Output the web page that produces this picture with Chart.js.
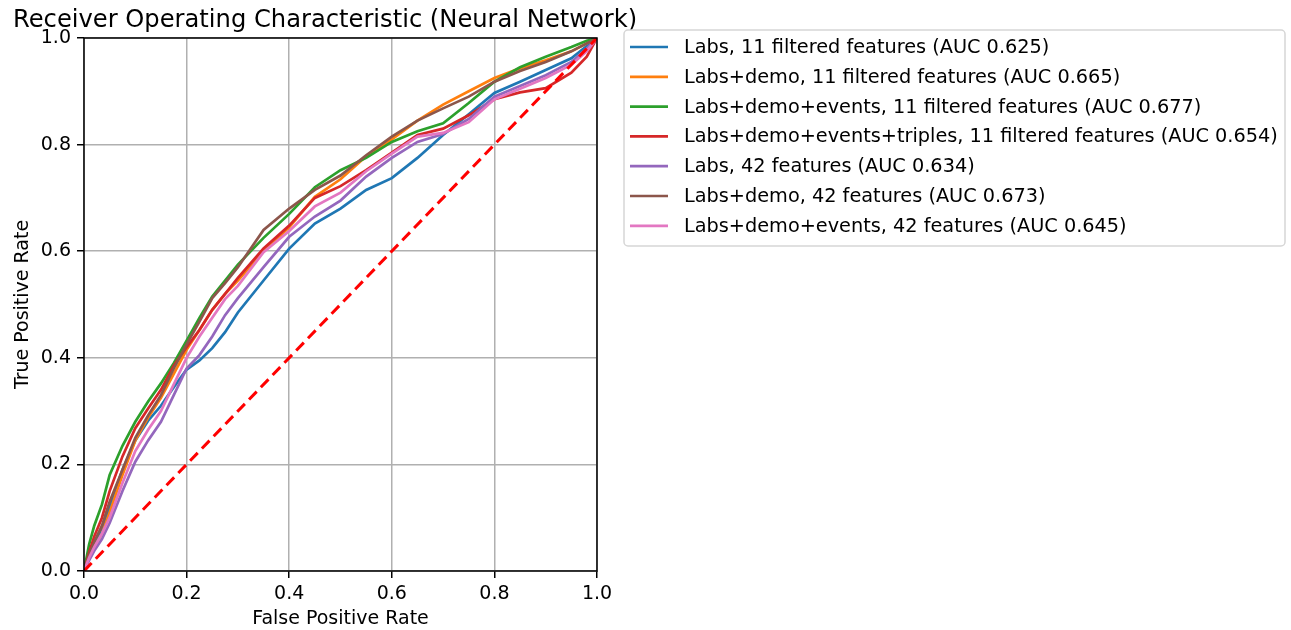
<!DOCTYPE html>
<html>
<head>
<meta charset="utf-8">
<title>ROC - Neural Network</title>
<script src="https://cdn.jsdelivr.net/npm/chart.js@4.4.1/dist/chart.umd.min.js"></script>
<style>
  html, body { margin: 0; padding: 0; background: #fff; }
  #roc { display: block; }
</style>
</head>
<body>
<canvas id="roc" width="1291" height="630"></canvas>
<script>
// shared false positive rate grid
const fpr = [0, 0.01, 0.02, 0.035, 0.05, 0.075, 0.1, 0.125, 0.15, 0.175, 0.2, 0.225, 0.25, 0.275, 0.3,
             0.35, 0.4, 0.45, 0.5, 0.55, 0.6, 0.65, 0.7, 0.75, 0.8, 0.85, 0.9, 0.95, 0.98, 1];

// true positive rate per model
const tprLabs11    = [0, 0.03, 0.05, 0.08, 0.12, 0.19, 0.245, 0.282, 0.31, 0.345, 0.378, 0.395, 0.418, 0.448, 0.485,
                      0.545, 0.605, 0.652, 0.68, 0.715, 0.737, 0.775, 0.818, 0.857, 0.897, 0.918, 0.94, 0.962, 0.985, 1];
const tprDemo11    = [0, 0.025, 0.045, 0.07, 0.11, 0.18, 0.245, 0.288, 0.325, 0.37, 0.415, 0.452, 0.49, 0.52, 0.545,
                      0.6, 0.645, 0.702, 0.735, 0.778, 0.81, 0.845, 0.875, 0.9, 0.925, 0.943, 0.958, 0.975, 0.99, 1];
const tprEvents11  = [0, 0.05, 0.085, 0.125, 0.18, 0.235, 0.28, 0.318, 0.352, 0.39, 0.432, 0.475, 0.515, 0.545, 0.575,
                      0.625, 0.67, 0.72, 0.752, 0.775, 0.805, 0.825, 0.84, 0.878, 0.918, 0.945, 0.965, 0.983, 0.995, 1];
const tprTriples11 = [0, 0.035, 0.065, 0.1, 0.15, 0.215, 0.268, 0.305, 0.34, 0.385, 0.42, 0.452, 0.49, 0.52, 0.55,
                      0.605, 0.648, 0.7, 0.722, 0.752, 0.785, 0.818, 0.83, 0.855, 0.885, 0.898, 0.906, 0.935, 0.965, 1];
const tprLabs42    = [0, 0.02, 0.038, 0.06, 0.09, 0.15, 0.205, 0.245, 0.28, 0.33, 0.38, 0.405, 0.44, 0.48, 0.512,
                      0.57, 0.627, 0.665, 0.695, 0.74, 0.775, 0.805, 0.82, 0.848, 0.89, 0.91, 0.93, 0.955, 0.98, 1];
const tprDemo42    = [0, 0.03, 0.055, 0.085, 0.13, 0.19, 0.25, 0.292, 0.33, 0.38, 0.425, 0.468, 0.512, 0.54, 0.57,
                      0.64, 0.68, 0.715, 0.742, 0.78, 0.815, 0.845, 0.868, 0.89, 0.918, 0.938, 0.955, 0.975, 0.99, 1];
const tprEvents42  = [0, 0.025, 0.045, 0.07, 0.1, 0.165, 0.225, 0.265, 0.3, 0.35, 0.4, 0.44, 0.475, 0.51, 0.535,
                      0.598, 0.638, 0.684, 0.71, 0.75, 0.783, 0.815, 0.822, 0.842, 0.885, 0.905, 0.925, 0.95, 0.975, 1];

const seriesLabels = [
  'Labs, 11 filtered features (AUC 0.625)',
  'Labs+demo, 11 filtered features (AUC 0.665)',
  'Labs+demo+events, 11 filtered features (AUC 0.677)',
  'Labs+demo+events+triples, 11 filtered features (AUC 0.654)',
  'Labs, 42 features (AUC 0.634)',
  'Labs+demo, 42 features (AUC 0.673)',
  'Labs+demo+events, 42 features (AUC 0.645)',
];
const seriesTpr = [tprLabs11, tprDemo11, tprEvents11, tprTriples11, tprLabs42, tprDemo42, tprEvents42];

// chance line
const chanceX = [0, 1];
const chanceY = [0, 1];

const axisTicks = [0, 0.2, 0.4, 0.6, 0.8, 1.0];

const COLORS = ['#1f77b4', '#ff7f0e', '#2ca02c', '#d62728', '#9467bd', '#8c564b', '#e377c2'];
const FONT = 'DejaVu Sans';

const datasets = seriesTpr.map((tpr, i) => ({
  label: seriesLabels[i],
  data: fpr.map((x, j) => ({ x, y: tpr[j] })),
  borderColor: COLORS[i],
  borderWidth: 2.7,
  pointRadius: 0,
  tension: 0,
  order: -i,
}));

datasets.push({
  label: 'chance',
  data: chanceX.map((x, j) => ({ x, y: chanceY[j] })),
  borderColor: '#ff0000',
  borderWidth: 3,
  borderDash: [11, 6],
  pointRadius: 0,
  order: -10,
});

// axes frame, title and boxed legend (matplotlib look)
const decorations = {
  id: 'decorations',
  afterDatasetsDraw(chart) {
    const { ctx, chartArea: a } = chart;
    ctx.save();
    ctx.strokeStyle = '#000';
    ctx.lineWidth = 1.5;
    ctx.strokeRect(a.left, a.top, a.right - a.left, a.bottom - a.top);
    ctx.restore();
  },
  afterDraw(chart) {
    const { ctx } = chart;
    ctx.save();
    ctx.fillStyle = '#000';
    ctx.font = `24.2px "${FONT}"`;
    ctx.textBaseline = 'alphabetic';
    ctx.textAlign = 'left';
    ctx.fillText('Receiver Operating Characteristic (Neural Network)', 13, 27);

    // legend box
    const bx = 624, by = 30, bw = 661, bh = 216, r = 4;
    ctx.beginPath();
    ctx.moveTo(bx + r, by);
    ctx.arcTo(bx + bw, by, bx + bw, by + bh, r);
    ctx.arcTo(bx + bw, by + bh, bx, by + bh, r);
    ctx.arcTo(bx, by + bh, bx, by, r);
    ctx.arcTo(bx, by, bx + bw, by, r);
    ctx.closePath();
    ctx.fillStyle = '#fff';
    ctx.fill();
    ctx.strokeStyle = '#d6d6d6';
    ctx.lineWidth = 1.5;
    ctx.stroke();

    ctx.font = `19.3px "${FONT}"`;
    ctx.textBaseline = 'middle';
    seriesLabels.forEach((label, i) => {
      const y = 47 + i * 29.8;
      ctx.strokeStyle = COLORS[i];
      ctx.lineWidth = 2.7;
      ctx.beginPath();
      ctx.moveTo(630, y);
      ctx.lineTo(668, y);
      ctx.stroke();
      ctx.fillStyle = '#000';
      ctx.fillText(label, 684, y + 1);
    });
    ctx.restore();
  }
};

new Chart(document.getElementById('roc'), {
  type: 'line',
  data: { datasets },
  options: {
    responsive: false,
    animation: false,
    layout: { padding: { top: 38, right: 694, left: 0, bottom: 0 } },
    plugins: {
      legend: { display: false },
      tooltip: { enabled: false },
    },
    scales: {
      x: {
        type: 'linear',
        min: 0,
        max: 1,
        afterBuildTicks: s => { s.ticks = axisTicks.map(v => ({ value: v })); },
        afterFit: s => { s.height = 59; },
        ticks: { callback: v => v.toFixed(1), color: '#000', font: { family: FONT, size: 19 }, padding: 5, maxRotation: 0 },
        grid: { color: '#b0b0b0', lineWidth: 1.5, tickColor: '#000', tickLength: 7, tickWidth: 1.5 },
        border: { display: false },
        title: { display: true, text: 'False Positive Rate', color: '#000', font: { family: FONT, size: 19 }, padding: { top: 0, bottom: 0 } },
      },
      y: {
        type: 'linear',
        min: 0,
        max: 1,
        afterBuildTicks: s => { s.ticks = axisTicks.map(v => ({ value: v })); },
        afterFit: s => { s.width = 84; },
        ticks: { callback: v => v.toFixed(1), color: '#000', font: { family: FONT, size: 19 }, padding: 6 },
        grid: { color: '#b0b0b0', lineWidth: 1.5, tickColor: '#000', tickLength: 7, tickWidth: 1.5 },
        border: { display: false },
        title: { display: true, text: 'True Positive Rate', color: '#000', font: { family: FONT, size: 19 }, padding: { top: 12, bottom: 0 } },
      },
    },
  },
  plugins: [decorations],
});
</script>
</body>
</html>
